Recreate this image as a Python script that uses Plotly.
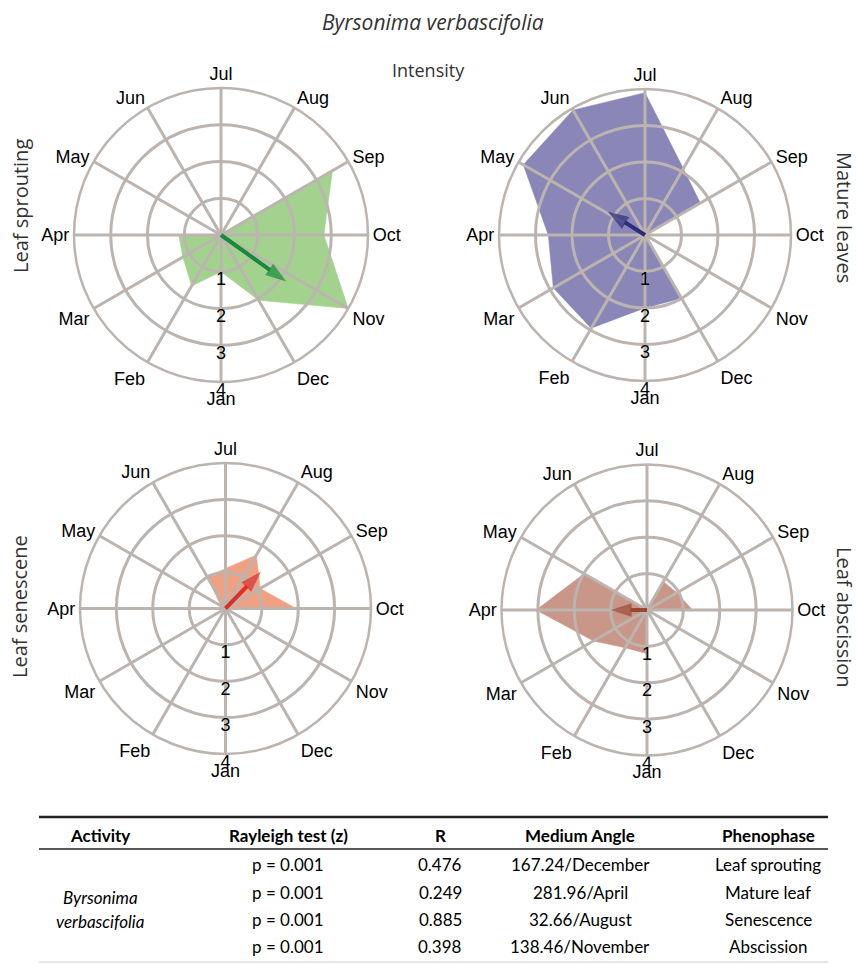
import plotly.graph_objects as go

W, H = 857, 965

months = ["Jan", "Feb", "Mar", "Apr", "May", "Jun", "Jul", "Aug", "Sep", "Oct", "Nov", "Dec"]
month_theta = [0, 30, 60, 90, 120, 150, 180, 210, 240, 270, 300, 330]

# intensity per month (0-4)
sprouting = [1.0, 1.6, 1.2, 1.15, 0.0, 0.0, 0.0, 0.0, 3.5, 2.8, 4.0, 2.05]
mature = [2.0, 2.95, 2.9, 2.65, 3.85, 3.95, 3.9, 2.1, 1.75, 0.0, 0.0, 2.0]
senescence = [0.0, 0.0, 0.0, 0.0, 0.15, 1.0, 1.1, 1.7, 1.1, 1.95, 0.0, 0.0]
abscission = [1.2, 1.2, 1.7, 3.05, 2.0, 0.0, 0.0, 0.9, 0.95, 1.25, 0.0, 0.0]

# mean vector (angle in chart degrees, length in intensity units)
arrow_theta = [305.5, 122, 224, 90]
arrow_len = [2.18, 1.2, 1.4, 1.0]

ring_vals = [1, 2, 3, 4]
ring_labels = ["1", "2", "3", "4"]

panel_names = ["Leaf sprouting", "Mature leaves", "Leaf senescene", "Leaf abscission"]
series = [sprouting, mature, senescence, abscission]
fill_colors = ["#a3d28f", "#8a86b8", "#f0a184", "#c99789"]
arrow_colors = ["#178a3c", "#2c2c7e", "#d9302a", "#9e4632"]

# table
tbl_header = ["Activity", "Rayleigh test (z)", "R", "Medium Angle", "Phenophase"]
tbl_rayleigh = ["p = 0.001", "p = 0.001", "p = 0.001", "p = 0.001"]
tbl_R = ["0.476", "0.249", "0.885", "0.398"]
tbl_angle = ["167.24/December", "281.96/April", "32.66/August", "138.46/November"]
tbl_phase = ["Leaf sprouting", "Mature leaf", "Senescence", "Abscission"]
tbl_species = ["Byrsonima", "verbascifolia"]

GRID = "#bcb4af"
centers = [(221, 235, 147), (645, 235, 146), (225.5, 608.5, 145.5), (647, 610, 145.5)]


def dom(cx, cy, r):
    return dict(x=[(cx - r) / W, (cx + r) / W], y=[1 - (cy + r) / H, 1 - (cy - r) / H])


def polar_cfg(d, show):
    return dict(
        domain=d,
        bgcolor="rgba(0,0,0,0)",
        angularaxis=dict(
            rotation=270, direction="clockwise", thetaunit="degrees",
            tickmode="array", tickvals=month_theta, ticktext=months,
            showgrid=show, gridcolor=GRID, gridwidth=2.5,
            showline=show, linecolor=GRID, linewidth=2.5,
            ticks="", showticklabels=show,
            tickfont=dict(family="Liberation Sans, Arial", size=18, color="black"),
        ),
        radialaxis=dict(
            range=[0, 4], tickmode="array", tickvals=ring_vals,
            showgrid=show, gridcolor=GRID, gridwidth=2.5,
            showline=False, showticklabels=False, ticks="",
        ),
    )


fig = go.Figure()
layout_polars = {}
for i in range(4):
    cx, cy, r = centers[i]
    d = dom(cx, cy, r)
    base = "polar" + str(2 * i + 1)
    top = "polar" + str(2 * i + 2)
    layout_polars[base] = polar_cfg(d, False)
    layout_polars[top] = polar_cfg(d, True)
    vals = series[i]
    fig.add_trace(go.Scatterpolar(
        r=vals + [vals[0]], theta=month_theta + [month_theta[0]],
        mode="lines", fill="toself", fillcolor=fill_colors[i],
        line=dict(color=fill_colors[i], width=0.5),
        subplot=base, showlegend=False, hoverinfo="skip"))
    fig.add_trace(go.Scatterpolar(
        r=ring_vals, theta=[0] * len(ring_vals), mode="text", text=ring_labels,
        textposition="bottom center",
        textfont=dict(family="Liberation Sans, Arial", size=18, color="black"),
        subplot=top, showlegend=False, hoverinfo="skip"))
    fig.add_trace(go.Scatterpolar(
        r=[0, arrow_len[i]], theta=[arrow_theta[i], arrow_theta[i]],
        mode="lines+markers",
        line=dict(color=arrow_colors[i], width=4),
        marker=dict(symbol=["circle", "arrow"], size=[0, 22], color=arrow_colors[i],
                    angleref="previous", line=dict(width=0)),
        subplot=top, showlegend=False, hoverinfo="skip"))


def ann(text, x, y, size, family="Open Sans", color="#333333", angle=0):
    return dict(text=text, x=x / W, y=1 - y / H, xref="paper", yref="paper",
                xanchor="center", yanchor="middle", showarrow=False, textangle=angle,
                font=dict(family=family, size=size, color=color))


annotations = [
    ann("<i>Byrsonima verbascifolia</i>", 433, 22, 21),
    ann("Intensity", 428, 70, 18),
]
side_pos = [(20, 206, -90), (845, 217, 90), (19, 607, -90), (845, 617, 90)]
for name, (sx, sy, ang) in zip(panel_names, side_pos):
    annotations.append(ann(name, sx, sy, 20, angle=ang))

col_x = [100, 288, 440, 580, 768]
hdr_y = 835
row_y = [864, 892, 919, 946]
TF = "Lato"
for cxp, h in zip(col_x, tbl_header):
    annotations.append(ann("<b>" + h + "</b>", cxp, hdr_y, 17, family=TF, color="black"))
for j in range(4):
    for cxp, col in zip(col_x[1:], [tbl_rayleigh, tbl_R, tbl_angle, tbl_phase]):
        annotations.append(ann(col[j], cxp, row_y[j], 17, family=TF, color="black"))
for k, sp in enumerate(tbl_species):
    annotations.append(ann("<i>" + sp + "</i>", col_x[0], 897 + 24 * k, 17, family=TF, color="black"))

shapes = [
    dict(type="line", xref="paper", yref="paper", x0=39 / W, x1=828 / W,
         y0=1 - 817 / H, y1=1 - 817 / H, line=dict(color="#222", width=2.5)),
    dict(type="line", xref="paper", yref="paper", x0=39 / W, x1=828 / W,
         y0=1 - 849 / H, y1=1 - 849 / H, line=dict(color="#222", width=1.5)),
    dict(type="line", xref="paper", yref="paper", x0=39 / W, x1=828 / W,
         y0=1 - 962 / H, y1=1 - 962 / H, line=dict(color="#cccccc", width=1)),
]

fig.update_layout(
    width=W, height=H, margin=dict(l=0, r=0, t=0, b=0),
    paper_bgcolor="white", plot_bgcolor="white",
    annotations=annotations, shapes=shapes, showlegend=False,
    **layout_polars,
)
fig.write_html("out.html", config={"displayModeBar": False},
               post_script="document.body.style.margin='0';")
